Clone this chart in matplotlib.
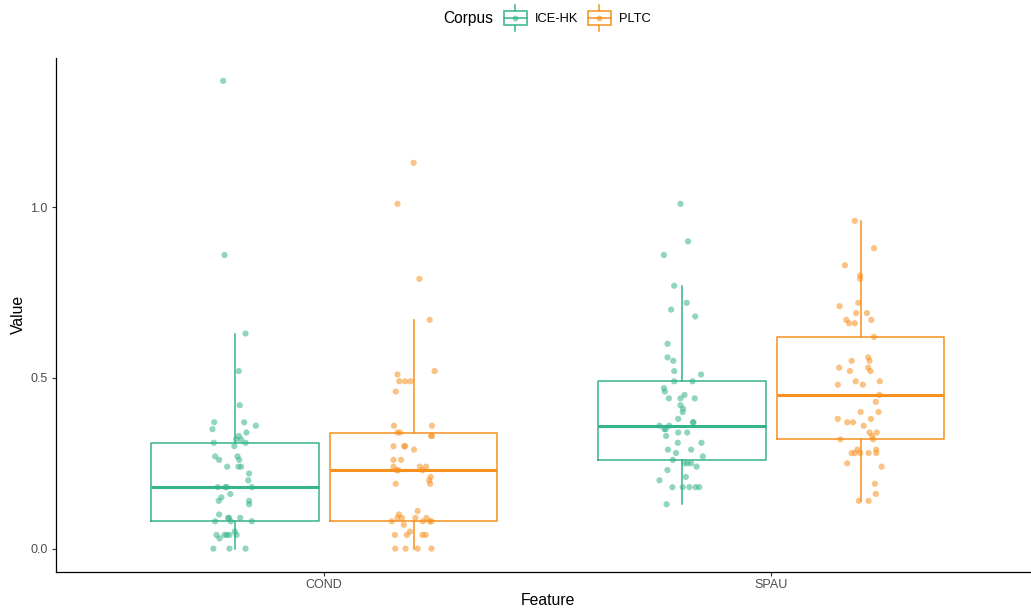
import matplotlib
matplotlib.use("Agg")
import matplotlib.pyplot as plt
from matplotlib.legend_handler import HandlerBase
from matplotlib.lines import Line2D
from matplotlib.patches import Rectangle
import numpy as np

plt.rcParams['font.family'] = ['Liberation Sans', 'DejaVu Sans']

features = ['COND', 'SPAU']
corpora = ['ICE-HK', 'PLTC']
colors = {'ICE-HK': '#35B38C', 'PLTC': '#F7901E'}

# box statistics: whisker low, Q1, median, Q3, whisker high
box_stats = {
    ('COND', 'ICE-HK'): [0.00, 0.08, 0.18, 0.31, 0.63],
    ('COND', 'PLTC'):   [0.00, 0.08, 0.23, 0.34, 0.67],
    ('SPAU', 'ICE-HK'): [0.13, 0.26, 0.36, 0.49, 0.77],
    ('SPAU', 'PLTC'):   [0.14, 0.32, 0.45, 0.62, 0.96],
}

# jittered observations: values and horizontal jitter (x units)
cond_ice_vals = [1.37, 0.86, 0.63, 0.52, 0.42, 0.37, 0.37, 0.35, 0.36, 0.34, 0.33, 0.32, 0.32,
                 0.31, 0.31, 0.30, 0.27, 0.26, 0.27, 0.26, 0.24, 0.24, 0.24, 0.22, 0.20, 0.18,
                 0.18, 0.18, 0.18, 0.16, 0.15, 0.14, 0.14, 0.13, 0.10, 0.08, 0.09, 0.09, 0.08,
                 0.09, 0.08, 0.04, 0.03, 0.04, 0.04, 0.04, 0.05, 0.04, 0.00, 0.00, 0.00]
cond_ice_jit = [-0.026, -0.023, 0.024, 0.009, 0.011, -0.046, 0.021, -0.050, 0.047, 0.026, 0.009,
                0.003, 0.014, -0.047, 0.024, -0.001, -0.044, -0.035, 0.006, 0.010, -0.017, 0.008,
                0.014, 0.032, 0.030, -0.038, -0.021, -0.018, 0.038, -0.010, -0.030, -0.036, 0.032,
                0.032, -0.035, -0.044, -0.015, -0.013, -0.009, 0.012, 0.038, -0.041, -0.034,
                -0.023, -0.018, -0.012, 0.000, 0.004, -0.048, -0.012, 0.024]

cond_pltc_vals = [1.13, 1.01, 0.79, 0.67, 0.52, 0.51, 0.49, 0.49, 0.49, 0.46, 0.36, 0.36, 0.34,
                  0.34, 0.33, 0.33, 0.30, 0.30, 0.30, 0.29, 0.26, 0.26, 0.24, 0.23, 0.23, 0.24,
                  0.24, 0.23, 0.21, 0.20, 0.19, 0.19, 0.11, 0.10, 0.09, 0.09, 0.09, 0.09, 0.08,
                  0.07, 0.08, 0.08, 0.08, 0.05, 0.04, 0.04, 0.04, 0.04, 0.00, 0.00, 0.00, 0.00]
cond_pltc_jit = [0.000, -0.036, 0.013, 0.036, 0.047, -0.036, -0.032, -0.019, -0.007, -0.040,
                 -0.044, 0.041, -0.036, -0.030, 0.039, 0.041, -0.045, -0.021, -0.019, 0.001,
                 -0.045, -0.028, -0.045, -0.038, -0.034, 0.014, 0.028, 0.020, 0.038, 0.035,
                 0.037, -0.040, 0.009, -0.033, -0.036, -0.026, 0.004, 0.029, -0.049, -0.022,
                 0.021, 0.036, 0.040, -0.008, -0.042, -0.015, 0.020, 0.027, -0.041, -0.018,
                 0.009, 0.040]

spau_ice_vals = [1.01, 0.90, 0.86, 0.77, 0.72, 0.70, 0.68, 0.60, 0.56, 0.55, 0.52, 0.51, 0.49,
                 0.49, 0.47, 0.46, 0.45, 0.44, 0.44, 0.44, 0.42, 0.41, 0.40, 0.38, 0.37, 0.37,
                 0.36, 0.36, 0.35, 0.35, 0.34, 0.34, 0.33, 0.31, 0.31, 0.29, 0.29, 0.28, 0.27,
                 0.26, 0.25, 0.25, 0.25, 0.24, 0.23, 0.21, 0.20, 0.18, 0.18, 0.18, 0.18, 0.18,
                 0.13]
spau_ice_jit = [-0.003, 0.014, -0.040, -0.017, 0.011, -0.024, 0.030, -0.032, -0.032, -0.019,
                -0.017, 0.043, -0.017, 0.024, -0.040, -0.038, 0.006, -0.029, -0.003, 0.029,
                -0.003, 0.003, 0.002, -0.008, 0.025, 0.026, -0.050, -0.028, -0.039, -0.036,
                -0.008, 0.012, -0.035, -0.009, 0.044, -0.031, 0.021, -0.013, 0.047, -0.020,
                0.006, 0.013, 0.021, 0.033, -0.032, 0.009, -0.050, -0.021, 0.002, 0.017, 0.031,
                0.039, -0.034]

spau_pltc_vals = [0.96, 0.88, 0.83, 0.80, 0.79, 0.72, 0.71, 0.69, 0.69, 0.67, 0.67, 0.66, 0.66,
                  0.62, 0.56, 0.55, 0.55, 0.53, 0.53, 0.52, 0.52, 0.49, 0.49, 0.48, 0.48, 0.45,
                  0.43, 0.40, 0.40, 0.38, 0.37, 0.37, 0.38, 0.36, 0.34, 0.34, 0.33, 0.32, 0.32,
                  0.29, 0.29, 0.28, 0.28, 0.28, 0.28, 0.28, 0.25, 0.24, 0.19, 0.16, 0.14, 0.14]
spau_pltc_jit = [-0.013, 0.030, -0.035, -0.001, -0.001, -0.005, -0.047, -0.010, 0.014, -0.032,
                 0.024, -0.026, -0.013, 0.030, 0.017, 0.020, -0.020, -0.048, 0.017, -0.024,
                 0.022, -0.011, 0.043, -0.051, 0.005, 0.042, 0.034, 0.000, 0.040, -0.051,
                 -0.030, -0.017, 0.023, 0.007, 0.020, 0.036, 0.026, 0.028, -0.045, -0.007,
                 0.035, -0.020, -0.013, -0.001, 0.018, 0.035, -0.030, 0.047, 0.032, 0.034,
                 -0.004, 0.018]

points = {
    ('COND', 'ICE-HK'): (cond_ice_vals, cond_ice_jit),
    ('COND', 'PLTC'): (cond_pltc_vals, cond_pltc_jit),
    ('SPAU', 'ICE-HK'): (spau_ice_vals, spau_ice_jit),
    ('SPAU', 'PLTC'): (spau_pltc_vals, spau_pltc_jit),
}

dodge = {'ICE-HK': -0.2, 'PLTC': 0.2}
box_w = 0.375

fig = plt.figure(figsize=(10.31, 6.08), dpi=100)
ax = fig.add_axes([56 / 1031, 36 / 608, 983.4 / 1031, 514.5 / 608])

for i, feat in enumerate(features):
    for corp in corpora:
        c = colors[corp]
        pos = i + 1 + dodge[corp]
        lo, q1, med, q3, hi = box_stats[(feat, corp)]
        ax.bxp([{'whislo': lo, 'q1': q1, 'med': med, 'q3': q3, 'whishi': hi, 'fliers': []}],
               positions=[pos], widths=box_w, showcaps=False, showfliers=False,
               boxprops=dict(color=c, linewidth=1.1),
               whiskerprops=dict(color=c, linewidth=1.1),
               medianprops=dict(color=c, linewidth=2.2, solid_capstyle='butt'),
               manage_ticks=False, zorder=2)
        vals, jit = points[(feat, corp)]
        ax.scatter(pos + np.array(jit), vals, s=20, color=c, alpha=0.55,
                   edgecolors='none', zorder=3)

ax.set_xlim(0.4, 2.6)
ax.set_ylim(-0.0685, 1.4385)
ax.set_xticks([1, 2])
ax.set_xticklabels(features)
ax.set_yticks([0.0, 0.5, 1.0])
ax.set_yticklabels(['0.0', '0.5', '1.0'])
ax.tick_params(axis='both', length=2.6, width=0.8, color='#333333',
               labelcolor='#4D4D4D', labelsize=9)
ax.tick_params(axis='y', pad=3.4)
ax.tick_params(axis='x', pad=2.8)
for side in ['top', 'right']:
    ax.spines[side].set_visible(False)
for side in ['left', 'bottom']:
    ax.spines[side].set_linewidth(0.9)
    ax.spines[side].set_color('black')
ax.set_xlabel('Feature', fontsize=11.3, labelpad=1.2)
ax.set_ylabel('Value', fontsize=11.3, labelpad=3.2)


class BoxKey(HandlerBase):
    def create_artists(self, legend, orig_handle, xdescent, ydescent, width, height,
                       fontsize, trans):
        c = orig_handle.get_color()
        x0, y0 = -xdescent, -ydescent
        cx, cy = x0 + width / 2, y0 + height / 2
        bw, bh = width * 0.92, height * 1.25
        rect = Rectangle((cx - bw / 2, cy - bh / 2), bw, bh, fill=False, edgecolor=c,
                         linewidth=1.1, transform=trans)
        wl = Line2D([cx, cx], [cy - bh * 0.95, cy + bh * 0.95], color=c, linewidth=1.1,
                    transform=trans)
        ml = Line2D([cx - bw / 2, cx + bw / 2], [cy, cy], color=c, linewidth=1.1,
                    transform=trans)
        dot = Line2D([cx], [cy], marker='o', markersize=4.2, color=c, alpha=0.6,
                     markeredgewidth=0, transform=trans)
        # whisker sits behind the white box interior
        bg = Rectangle((cx - bw / 2, cy - bh / 2), bw, bh, facecolor='white',
                       edgecolor='none', transform=trans)
        return [wl, bg, rect, ml, dot]


handles = [Line2D([], [], color=colors[c]) for c in corpora]
fig.text(443 / 1031, 1 - 19 / 608, 'Corpus', fontsize=11.2, ha='left', va='center')
fig.legend(handles, corpora, handler_map={Line2D: BoxKey()},
           loc='center left', bbox_to_anchor=(503 / 1031, 1 - 19 / 608),
           ncol=2, frameon=False, fontsize=9.3, handlelength=1.9, handleheight=0.9,
           handletextpad=0.6, columnspacing=0.65, borderpad=0.0, borderaxespad=0.0)

fig.savefig('out.png', dpi=100)
